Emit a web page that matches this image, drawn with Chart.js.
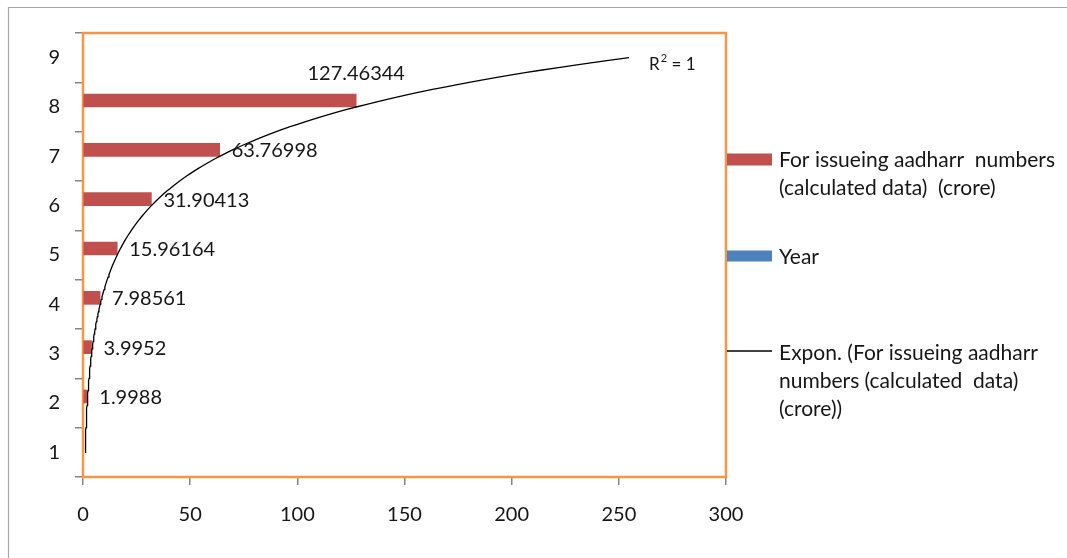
<!DOCTYPE html>
<html>
<head>
<meta charset="utf-8">
<script src="https://cdn.jsdelivr.net/npm/chart.js@4/dist/chart.umd.min.js"></script>
<style>
  html, body { margin: 0; padding: 0; background: #ffffff; overflow: hidden; }
  #wrap { position: relative; width: 1067px; height: 558px; }
</style>
</head>
<body>
<div id="wrap"><canvas id="chart" width="1067" height="558"></canvas></div>
<script>
// Category axis (vertical) and series values
const categories = ['1', '2', '3', '4', '5', '6', '7', '8', '9'];
const issueValues = [null, 1.9988, 3.9952, 7.98561, 15.96164, 31.90413, 63.76998, 127.46344, null];
const yearValues = [null, null, null, null, null, null, null, null, null];
const xTickValues = [0, 50, 100, 150, 200, 250, 300];

const issueName = 'For issueing aadharr  numbers (calculated data)  (crore)';
const yearName = 'Year';
const trendName = 'Expon. (For issueing aadharr numbers (calculated data) (crore))';

const legendLines = {
  issue: ['For issueing aadharr  numbers', '(calculated data)  (crore)'],
  year: ['Year'],
  trend: ['Expon. (For issueing aadharr', 'numbers (calculated  data)', '(crore))']
};

const RED = '#C0504D';
const BLUE = '#4F81BD';
const ORANGE = '#F79646';
const TEXT = '#161616';
const FONT = 'Lato, "Open Sans", sans-serif';
const FONT_SIZE = 20;
const LEGEND_FONT_SIZE = 21;

// Exponential least-squares fit  x = a * exp(b * k)  over the category positions that carry a bar
function fitExponential(values) {
  const pts = [];
  values.forEach((v, i) => { if (v !== null && v > 0) pts.push([i + 1, Math.log(v)]); });
  const n = pts.length;
  let sk = 0, sl = 0, skk = 0, skl = 0;
  pts.forEach(([k, l]) => { sk += k; sl += l; skk += k * k; skl += k * l; });
  const b = (n * skl - sk * sl) / (n * skk - sk * sk);
  const lnA = (sl - b * sk) / n;
  // coefficient of determination in log space
  const mean = sl / n;
  let ssTot = 0, ssRes = 0;
  pts.forEach(([k, l]) => { const p = lnA + b * k; ssRes += (l - p) ** 2; ssTot += (l - mean) ** 2; });
  return { a: Math.exp(lnA), b, r2: 1 - ssRes / ssTot };
}
const fit = fitExponential(issueValues);
const trendAt = k => fit.a * Math.exp(fit.b * k);
// fitted curve across the whole category range; y is the (fractional) category index
const trendPoints = [];
for (let s = 0; s <= 160; s++) {
  const k = 1 + s * (categories.length - 1) / 160;
  trendPoints.push({ x: trendAt(k), y: k - 1 });
}

// Outer frame, plot-area border
const framePlugin = {
  id: 'frame',
  beforeDraw(chart) {
    const ctx = chart.ctx;
    ctx.save();
    ctx.fillStyle = '#ffffff';
    ctx.fillRect(0, 0, chart.width, chart.height);
    ctx.strokeStyle = '#a6a6a6';
    ctx.lineWidth = 1.2;
    ctx.beginPath();
    ctx.moveTo(8.5, chart.height);
    ctx.lineTo(8.5, 7.5);
    ctx.lineTo(chart.width, 7.5);
    ctx.stroke();
    ctx.restore();
  },
  beforeDatasetsDraw(chart) {
    const { ctx, chartArea: a } = chart;
    ctx.save();
    ctx.strokeStyle = ORANGE;
    ctx.lineWidth = 2.5;
    ctx.strokeRect(a.left, a.top, a.right - a.left, a.bottom - a.top);
    ctx.restore();
  }
};

// Value labels next to the bars, R² note at the end of the trendline
const labelPlugin = {
  id: 'valueLabels',
  afterDatasetsDraw(chart) {
    const ctx = chart.ctx;
    const meta = chart.getDatasetMeta(0);
    ctx.save();
    ctx.font = FONT_SIZE + 'px ' + FONT;
    ctx.fillStyle = TEXT;
    ctx.textBaseline = 'middle';
    let lastIdx = -1;
    issueValues.forEach((v, i) => { if (v !== null) lastIdx = i; });
    meta.data.forEach((bar, i) => {
      const v = issueValues[i];
      if (v === null) return;
      const txt = String(v);
      if (i === lastIdx) {
        ctx.textAlign = 'center';
        ctx.fillText(txt, bar.x, bar.y - 27);
      } else {
        ctx.textAlign = 'left';
        ctx.fillText(txt, bar.x + 12, bar.y + 1);
      }
    });
    // R² = 1
    const xs = chart.scales.x, ys = chart.scales.y;
    const endK = categories.length;
    let px = xs.getPixelForValue(trendAt(endK)) + 20;
    const py = ys.getPixelForValue(endK - 1) + 7;
    ctx.textAlign = 'left';
    ctx.font = '17px ' + FONT;
    ctx.fillText('R', px, py);
    px += ctx.measureText('R').width;
    ctx.font = '11px ' + FONT;
    ctx.fillText('2', px + 1, py - 6);
    px += ctx.measureText('2').width + 1;
    ctx.font = '17px ' + FONT;
    ctx.fillText(' = ' + Math.round(fit.r2), px, py);
    ctx.restore();
  }
};

// Legend on the right
const legendPlugin = {
  id: 'sideLegend',
  afterDraw(chart) {
    const ctx = chart.ctx;
    const left = chart.chartArea.right + 1;
    const textX = left + 52;
    ctx.save();
    ctx.font = LEGEND_FONT_SIZE + 'px ' + FONT;
    ctx.fillStyle = TEXT;
    ctx.textBaseline = 'middle';
    ctx.textAlign = 'left';
    const lh = 28;
    ctx.fillStyle = RED;
    ctx.fillRect(left, 153.5, 45, 12);
    ctx.fillStyle = TEXT;
    legendLines.issue.forEach((t, i) => ctx.fillText(t, textX, 160 + i * lh));
    ctx.fillStyle = BLUE;
    ctx.fillRect(left, 250.5, 45, 11);
    ctx.fillStyle = TEXT;
    legendLines.year.forEach((t, i) => ctx.fillText(t, textX, 257 + i * lh));
    ctx.strokeStyle = '#000000';
    ctx.lineWidth = 1.3;
    ctx.beginPath();
    ctx.moveTo(left, 351);
    ctx.lineTo(left + 45, 351);
    ctx.stroke();
    legendLines.trend.forEach((t, i) => ctx.fillText(t, textX, 353 + i * lh));
    ctx.restore();
  }
};

Chart.defaults.font.family = FONT;
Chart.defaults.font.size = FONT_SIZE;
Chart.defaults.color = TEXT;

new Chart(document.getElementById('chart'), {
  type: 'bar',
  data: {
    labels: categories,
    datasets: [
      {
        label: issueName,
        data: issueValues,
        backgroundColor: RED,
        borderWidth: 0,
        barThickness: 13,
        order: 2
      },
      {
        label: yearName,
        data: yearValues,
        backgroundColor: BLUE,
        borderWidth: 0,
        barThickness: 13,
        order: 3
      },
      {
        type: 'line',
        label: trendName,
        data: trendPoints,
        parsing: false,
        indexAxis: 'y',
        borderColor: '#000000',
        borderWidth: 1.3,
        pointRadius: 0,
        tension: 0,
        fill: false,
        order: 1
      }
    ]
  },
  options: {
    indexAxis: 'y',
    responsive: false,
    devicePixelRatio: 1,
    animation: false,
    layout: { padding: { left: 0, top: 33, right: 341, bottom: 0 } },
    plugins: {
      legend: { display: false },
      tooltip: { enabled: false }
    },
    scales: {
      x: {
        type: 'linear',
        position: 'bottom',
        min: 0,
        max: 300,
        afterBuildTicks: s => { s.ticks = xTickValues.map(v => ({ value: v })); },
        afterFit: s => { s.height = 81; },
        ticks: { padding: 18, color: TEXT, font: { size: FONT_SIZE } },
        grid: { drawOnChartArea: false, drawTicks: true, tickLength: 8, color: '#868686', lineWidth: 1.5 },
        border: { display: false }
      },
      y: {
        type: 'category',
        position: 'left',
        reverse: true,
        offset: true,
        afterFit: s => { s.width = 83; },
        ticks: { padding: 15, color: TEXT, font: { size: FONT_SIZE } },
        grid: { offset: true, drawOnChartArea: false, drawTicks: true, tickLength: 8, color: '#868686', lineWidth: 1.5 },
        border: { display: false }
      }
    }
  },
  plugins: [framePlugin, labelPlugin, legendPlugin]
});
</script>
</body>
</html>
